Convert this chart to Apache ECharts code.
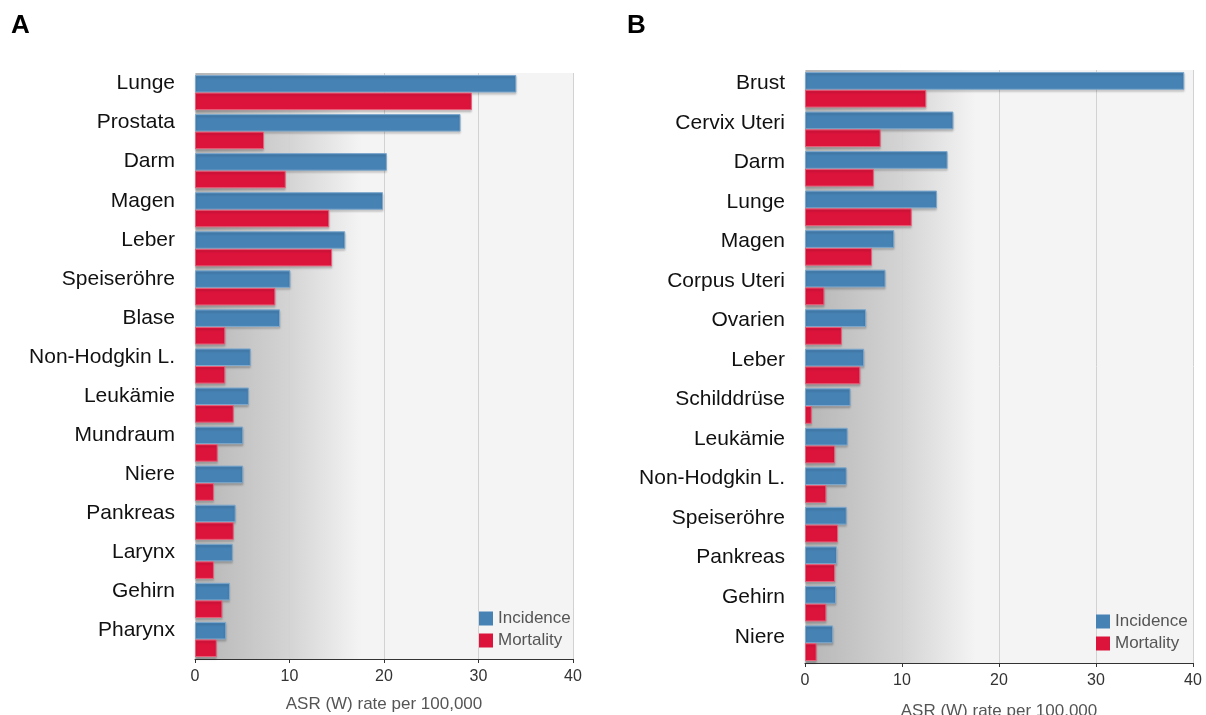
<!DOCTYPE html>
<html>
<head>
<meta charset="utf-8">
<script src="https://cdn.jsdelivr.net/npm/echarts@6/dist/echarts.min.js"></script>
<style>
  html, body { margin: 0; padding: 0; background: #fff; }
  #chart { width: 1206px; height: 715px; }
</style>
</head>
<body>
<div id="chart"></div>
<script>
// Panel A (Männer)
let cat_a = ['Lunge', 'Prostata', 'Darm', 'Magen', 'Leber', 'Speiseröhre', 'Blase', 'Non-Hodgkin L.',
    'Leukämie', 'Mundraum', 'Niere', 'Pankreas', 'Larynx', 'Gehirn', 'Pharynx'];
let inc_a = [34.0, 28.1, 20.3, 19.9, 15.9, 10.1, 9.0, 5.9, 5.7, 5.1, 5.1, 4.3, 4.0, 3.7, 3.3];
let mort_a = [29.3, 7.3, 9.6, 14.2, 14.5, 8.5, 3.2, 3.2, 4.1, 2.4, 2.0, 4.1, 2.0, 2.9, 2.3];

// Panel B (Frauen)
let cat_b = ['Brust', 'Cervix Uteri', 'Darm', 'Lunge', 'Magen', 'Corpus Uteri', 'Ovarien', 'Leber',
    'Schilddrüse', 'Leukämie', 'Non-Hodgkin L.', 'Speiseröhre', 'Pankreas', 'Gehirn', 'Niere'];
let inc_b = [39.1, 15.3, 14.7, 13.6, 9.2, 8.3, 6.3, 6.1, 4.7, 4.4, 4.3, 4.3, 3.3, 3.2, 2.9];
let mort_b = [12.5, 7.8, 7.1, 11.0, 6.9, 2.0, 3.8, 5.7, 0.7, 3.1, 2.2, 3.4, 3.1, 2.2, 1.2];

let x_ticks = [0, 10, 20, 30, 40];
let axis_title = 'ASR (W) rate per 100,000';

let bg_gradient = {
    type: 'linear', x: 0, y: 0, x2: 1, y2: 0,
    colorStops: [
        {offset: 0, color: '#b6b6b6'},
        {offset: 0.25, color: '#d4d4d4'},
        {offset: 0.44, color: '#f4f4f4'},
        {offset: 1, color: '#f4f4f4'}
    ]
};

function make_x(idx, gap) {
    return {
        type: 'value', gridIndex: idx, min: x_ticks[0], max: x_ticks[x_ticks.length - 1], interval: 10,
        name: axis_title, nameLocation: 'middle', nameGap: gap,
        nameTextStyle: {fontFamily: 'Liberation Sans', fontSize: 17, color: '#555'},
        axisLine: {show: true, lineStyle: {color: '#333', width: 1}},
        axisTick: {show: true, length: 4, lineStyle: {color: '#333'}},
        axisLabel: {fontFamily: 'Liberation Sans', fontSize: 16, color: '#333', margin: 10},
        splitLine: {show: true, lineStyle: {color: '#d2d2d2', width: 1}}
    };
}

function make_y(idx, cats, lh) {
    return {
        type: 'category', gridIndex: idx, data: cats, inverse: true,
        axisLine: {show: false}, axisTick: {show: false},
        axisLabel: {fontFamily: 'Liberation Sans', fontSize: 21, color: '#111', margin: 20,
            verticalAlign: 'bottom', lineHeight: lh}
    };
}

function make_bar(name, idx, data, color, border) {
    return {
        name: name, type: 'bar', xAxisIndex: idx, yAxisIndex: idx, data: data,
        barGap: '0%', barCategoryGap: '10%',
        itemStyle: {color: color, borderColor: border, borderWidth: 1,
            shadowColor: 'rgba(0,0,0,0.18)', shadowBlur: 2, shadowOffsetY: 2},
        emphasis: {disabled: true}
    };
}

let legend_text = {fontFamily: 'Liberation Sans', fontSize: 17, color: '#555'};

let myChart = echarts.init(document.getElementById('chart'));
let option = {
    animation: false,
    backgroundColor: '#fff',
    title: [
        {text: 'A', left: 6, top: 8, textStyle: {fontFamily: 'Liberation Sans', fontSize: 26, fontWeight: 'bold', color: '#000'}},
        {text: 'B', left: 622, top: 8, textStyle: {fontFamily: 'Liberation Sans', fontSize: 26, fontWeight: 'bold', color: '#000'}}
    ],
    legend: [
        {data: ['Incidence', 'Mortality'], orient: 'vertical', left: 474, top: 605, itemWidth: 14, itemHeight: 14,
            itemGap: 5, icon: 'rect', itemStyle: {borderWidth: 0, shadowBlur: 0, shadowOffsetY: 0},
            textStyle: legend_text},
        {data: ['Incidence ', 'Mortality '], orient: 'vertical', left: 1091, top: 608, itemWidth: 14, itemHeight: 14,
            itemGap: 5, icon: 'rect', itemStyle: {borderWidth: 0, shadowBlur: 0, shadowOffsetY: 0},
            textStyle: legend_text, formatter: function (n) { return n.trim(); }}
    ],
    grid: [
        {left: 195, right: 633, top: 73, bottom: 56, show: true, borderWidth: 0, backgroundColor: bg_gradient,
            outerBoundsMode: 'none', containLabel: false},
        {left: 805, right: 13, top: 70, bottom: 52, show: true, borderWidth: 0, backgroundColor: bg_gradient,
            outerBoundsMode: 'none', containLabel: false}
    ],
    xAxis: [make_x(0, 37), make_x(1, 40)],
    yAxis: [make_y(0, cat_a, 18), make_y(1, cat_b, 13)],
    series: [
        make_bar('Incidence', 0, inc_a, '#4682b4', '#7ea8cc'),
        make_bar('Mortality', 0, mort_a, '#dc143c', '#e8607a'),
        make_bar('Incidence ', 1, inc_b, '#4682b4', '#7ea8cc'),
        make_bar('Mortality ', 1, mort_b, '#dc143c', '#e8607a')
    ]
};
myChart.setOption(option);
</script>
</body>
</html>
